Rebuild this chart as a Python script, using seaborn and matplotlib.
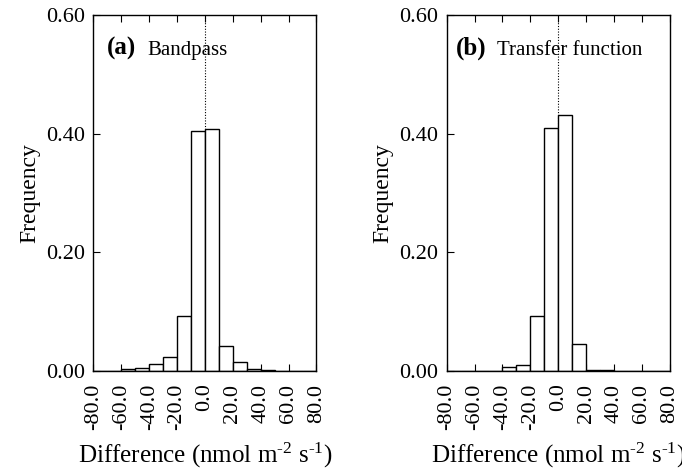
import matplotlib
matplotlib.use("Agg")
import matplotlib.pyplot as plt
import matplotlib.ticker as mticker
import numpy as np
import seaborn as sns

# bin edges shared by both panels (nmol m-2 s-1)
BIN_EDGES = list(range(-80, 81, 10))

# frequency per bin
BANDPASS_FREQ = [0.0, 0.0, 0.003, 0.005, 0.011, 0.023, 0.092, 0.405,
                 0.408, 0.043, 0.016, 0.003, 0.001, 0.0, 0.0, 0.0]
TRANSFER_FREQ = [0.0, 0.0, 0.0, 0.0, 0.006, 0.010, 0.093, 0.410,
                 0.432, 0.045, 0.002, 0.002, 0.0, 0.0, 0.0, 0.0]

PANELS = [("(a)", "Bandpass", BANDPASS_FREQ, 0.06, 0.24),
          ("(b)", "Transfer function", TRANSFER_FREQ, 0.04, 0.225)]

X_TICKS = list(range(-80, 81, 20))
Y_TICKS = [0.0, 0.2, 0.4, 0.6]

sns.set_style("ticks")
plt.rcParams["font.family"] = ["Liberation Serif", "DejaVu Serif"]
plt.rcParams["mathtext.fontset"] = "custom"
plt.rcParams["mathtext.rm"] = "Liberation Serif"
plt.rcParams["mathtext.it"] = "Liberation Serif:italic"
plt.rcParams["axes.unicode_minus"] = False
plt.rcParams["text.color"] = "black"
plt.rcParams["axes.labelcolor"] = "black"
plt.rcParams["xtick.color"] = "black"
plt.rcParams["ytick.color"] = "black"

fig = plt.figure(figsize=(6.82, 4.73), dpi=100)
axes = [fig.add_axes([0.137, 0.2156, 0.327, 0.7526]),
        fig.add_axes([0.655, 0.2156, 0.327, 0.7526])]

centers = (np.array(BIN_EDGES[:-1]) + np.array(BIN_EDGES[1:])) / 2

for ax, (tag, name, freq, tx, nx) in zip(axes, PANELS):
    ax.axvline(0, color="black", linestyle=(0, (1, 1.5)), linewidth=0.8, zorder=1)
    sns.histplot(x=centers, weights=freq, bins=BIN_EDGES, ax=ax,
                 color="white", edgecolor="black", linewidth=1.0, alpha=1.0,
                 zorder=2)
    ax.set_xlim(-80, 80)
    ax.set_ylim(0, 0.6)
    ax.set_xticks(X_TICKS)
    ax.set_yticks(Y_TICKS)
    ax.xaxis.set_major_formatter(mticker.FormatStrFormatter("%.1f"))
    ax.yaxis.set_major_formatter(mticker.FormatStrFormatter("%.2f"))
    ax.tick_params(axis="x", direction="in", top=True, bottom=True,
                   length=5, width=0.8, labelsize=16, labelrotation=90, pad=9)
    ax.tick_params(axis="y", direction="in", left=True, right=False,
                   length=5, width=0.8, labelsize=16, pad=6)
    for sp in ax.spines.values():
        sp.set_visible(True)
        sp.set_linewidth(1.0)
        sp.set_color("black")
    ax.set_ylabel("Frequency", fontsize=17, labelpad=4)
    ax.set_xlabel(r"Difference (nmol m$^{\text{-}2}$ s$^{\text{-}1}$)",
                  fontsize=18, labelpad=8)
    ax.text(tx, 0.888, tag, transform=ax.transAxes, fontsize=18,
            fontweight="bold", ha="left", va="baseline")
    ax.text(nx, 0.888, name, transform=ax.transAxes, fontsize=15,
            ha="left", va="baseline")

fig.savefig("out.png", dpi=100)
